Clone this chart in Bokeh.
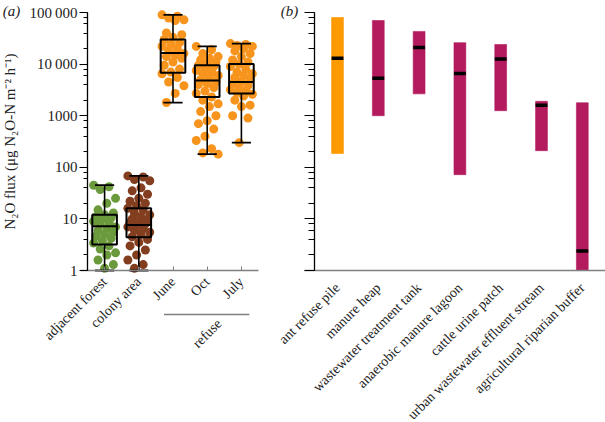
from bokeh.plotting import figure
from bokeh.layouts import row
from bokeh.models import (Range1d, FixedTicker, LogTicker, CustomJSTickFormatter)
from bokeh.core.properties import value
from bokeh.embed import file_html
from bokeh.resources import INLINE
import math

# ---------------- data ----------------
groups = ["adjacent forest", "colony area", "June", "Oct", "July"]
forest = [45, 42, 37, 25, 20, 15, 13, 12, 11, 10.5, 10, 9, 8.5, 8, 7, 6.5, 6, 5.5,
          5, 4.6, 4.2, 3.8, 3.4, 3, 2.6, 2.2, 2, 1.6, 1.3, 1.1]
colony = [68, 65, 58, 55, 40, 35, 30, 25, 22, 20, 18, 16, 15, 13, 12, 11, 10, 9.5,
          9, 8.5, 8, 7.5, 7, 6.5, 6, 5.5, 5, 4.5, 4, 3.5, 3, 2.5, 2, 1.6, 1.3, 1.1]
june = [90000, 85000, 78000, 72000, 70000, 40000, 37000, 33000, 30000, 26000, 24000,
        22000, 20000, 18000, 16000, 15000, 14000, 13000, 11000, 9500, 8000, 7000,
        6500, 5500, 4500, 3800, 2700, 1800]
october = [22000, 19000, 16000, 14000, 13000, 12000, 11000, 10000, 9500, 9000, 8000,
           7500, 7000, 6500, 6000, 5500, 5000, 4500, 4200, 4000, 3500, 3000, 2700,
           2300, 2000, 1700, 1500, 1200, 1000, 800, 700, 550, 400, 330, 230, 190, 180]
july = [25000, 24000, 23000, 22000, 20000, 18000, 16000, 14000, 12000, 11000, 10000,
        9000, 8000, 7000, 6500, 6000, 5500, 5000, 4600, 4200, 3800, 3500, 3200, 3000,
        2800, 2600, 2400, 2000, 1600, 1500, 1000, 900, 300]

box_q1 = [3.2, 4.4, 6800, 2300, 2700]
box_median = [7.2, 7.6, 16500, 4800, 4500]
box_q3 = [12, 16, 30000, 9500, 10000]
whisker_low = [1, 1, 1800, 180, 300]
whisker_high = [45, 68, 90000, 22000, 25000]

group_label = "refuse"

sources = ["ant refuse pile", "manure heap", "wastewater treatment tank",
           "anaerobic manure lagoon", "cattle urine patch",
           "urban wastewater effluent stream", "agricultural riparian buffer"]
range_low = [185, 1000, 2650, 72, 1250, 210, 1]
range_high = [80000, 70000, 43000, 26000, 24000, 1900, 1780]
range_median = [13000, 5300, 21000, 6600, 12500, 1600, 2.4]

y_ticks = [1, 10, 100, 1000, 10000, 100000]
y_tick_labels = ["1", "10", "100", "1000", "10\u2009000", "100\u2009000"]
y_min, y_max = 1, 100000

# ---------------- layout / styles ----------------
SERIF = "Liberation Serif"
TXT = "#222222"
CAT_SIZE = "14px"
dot_colors = ["#6b9a3c", "#823e1e", "#f7941d", "#f7941d", "#f7941d"]
bar_colors = ["#ff9900"] + ["#b31b5e"] * 6
H = 422
TOP, BOTTOM = 12, 270            # pixel rows of y_max and y_min
DEC = (BOTTOM - TOP) / math.log10(y_max / y_min)   # px per decade


def y_from_px(py):
    return 10 ** (math.log10(y_min) + (BOTTOM - py) / DEC)


# panel (a): canvas 0..WA, y axis at AX_A, category spacing UA
WA, AX_A, UA = 266, 87, 34.2
# panel (b): canvas 0..WB (starts at page x=266), y axis at AX_B
WB, AX_B, UB, FIRST_B = 339, 48, 40.8, 71


def base_fig(width, x0, x1):
    p = figure(width=width, height=H, y_axis_type="log",
               x_range=Range1d(x0, x1),
               y_range=Range1d(y_from_px(H), y_from_px(0)),
               output_backend="svg", toolbar_location=None, min_border=0)
    p.min_border_left = p.min_border_right = p.min_border_top = p.min_border_bottom = 0
    p.outline_line_color = None
    p.grid.visible = False
    return p


# ---------------- panel (a) ----------------
xa0 = 0.5 - AX_A / UA
pa = base_fig(WA, xa0, xa0 + WA / UA)

series = [forest, colony, june, october, july]
for gi, vals in enumerate(series):
    xs = [gi + 1 + ((((i * 7) % 11) - 5) / 5.0) * 0.32 for i in range(len(vals))]
    pa.scatter(xs, vals, size=9, fill_color=dot_colors[gi], line_color=None)

xc = [i + 1 for i in range(len(groups))]
hw, cw = 0.36, 0.28
pa.segment(x0=xc, y0=whisker_low, x1=xc, y1=box_q1, line_color="black", line_width=1.6)
pa.segment(x0=xc, y0=box_q3, x1=xc, y1=whisker_high, line_color="black", line_width=1.6)
pa.segment(x0=[x - cw for x in xc], y0=whisker_high, x1=[x + cw for x in xc],
           y1=whisker_high, line_color="black", line_width=1.8)
pa.segment(x0=[x - cw for x in xc], y0=whisker_low, x1=[x + cw for x in xc],
           y1=whisker_low, line_color="black", line_width=1.8)
pa.quad(left=[x - hw for x in xc], right=[x + hw for x in xc], bottom=box_q1,
        top=box_q3, fill_color=None, line_color="black", line_width=2)
pa.segment(x0=[x - hw for x in xc], y0=box_median, x1=[x + hw for x in xc],
           y1=box_median, line_color="black", line_width=2)

# x axis (categories)
xa = pa.xaxis[0]
xa.fixed_location = y_min
xa.bounds = (0.5 - 7 / UA, 5.5)
xa.ticker = FixedTicker(ticks=xc)
xa.major_label_overrides = {x: g for x, g in zip(xc, groups)}
xa.major_label_orientation = math.pi / 4
xa.major_label_text_font = SERIF
xa.major_label_text_font_size = CAT_SIZE
xa.major_label_text_color = TXT
xa.major_label_standoff = 9
xa.major_tick_in = 4
xa.major_tick_out = 0
xa.minor_tick_line_color = None
xa.axis_line_color = "#7f7f7f"
xa.major_tick_line_color = "#7f7f7f"
xa.axis_line_width = 1.5

# y axis
ya = pa.yaxis[0]
ya.fixed_location = 0.5
ya.bounds = (y_min, y_max)
ya.ticker = LogTicker(desired_num_ticks=6)
ya.major_label_overrides = {t: l for t, l in zip(y_ticks, y_tick_labels)}
ya.major_label_text_font = SERIF
ya.major_label_text_font_size = "15px"
ya.major_label_text_color = TXT
ya.major_label_standoff = 2
ya.major_tick_out = 8
ya.major_tick_in = 0
ya.minor_tick_out = 4
ya.minor_tick_in = 0
ya.axis_line_width = 1.3
ya.axis_label = "N\u2082O flux (\u03bcg N\u2082O-N m\u207b\u00b2 h\u207b\u00b9)"
ya.axis_label_text_font = SERIF
ya.axis_label_text_font_size = "15px"
ya.axis_label_text_font_style = "normal"
ya.axis_label_text_color = TXT
ya.axis_label_standoff = 8

# group bracket and its label under the three months
y_br = y_from_px(314)
pa.segment(x0=[3 - 9 / UA], y0=[y_br], x1=[5 + 8 / UA], y1=[y_br],
           line_color="#7f7f7f", line_width=1.5)
pa.text(x=[4], y=[y_from_px(333)], text=[group_label], angle=math.pi / 4,
        text_align="center", text_baseline="middle", text_font=value(SERIF),
        text_font_size=CAT_SIZE, text_color=TXT)
pa.text(x=[0.5 + (11 - AX_A) / UA], y=[y_from_px(10)], text=["(a)"],
        text_align="center", text_baseline="middle", text_font=value(SERIF),
        text_font_style="italic", text_font_size="15px", text_color=TXT)

# ---------------- panel (b) ----------------
xb0 = 1 - FIRST_B / UB
pb = base_fig(WB, xb0, xb0 + WB / UB)

bx = [i + 1 for i in range(len(sources))]
pb.vbar(x=bx, width=0.29, bottom=range_low, top=range_high, fill_color=bar_colors,
        line_color=bar_colors, line_alpha=0.6)
pb.rect(x=bx, y=range_median, width=0.29, height=3.5, height_units="screen",
        fill_color="black", line_color=None)

xb = pb.xaxis[0]
xb.fixed_location = y_min
xb.bounds = (1 + (38 - FIRST_B) / UB, xb0 + WB / UB)
xb.ticker = FixedTicker(ticks=bx)
xb.major_label_overrides = {x: s for x, s in zip(bx, sources)}
xb.major_label_orientation = math.pi / 4
xb.major_label_text_font = SERIF
xb.major_label_text_font_size = CAT_SIZE
xb.major_label_text_color = TXT
xb.major_label_standoff = 9
xb.major_tick_line_color = None
xb.minor_tick_line_color = None
xb.axis_line_color = "#7f7f7f"
xb.axis_line_width = 1.5

yb = pb.yaxis[0]
yb.fixed_location = 1 + (AX_B - FIRST_B) / UB
yb.bounds = (y_min, y_max)
yb.ticker = LogTicker(desired_num_ticks=6)
yb.formatter = CustomJSTickFormatter(code="return ''")
yb.major_label_text_font_size = "1px"
yb.major_label_standoff = 0
yb.major_tick_out = 10
yb.major_tick_in = 0
yb.minor_tick_out = 6
yb.minor_tick_in = 0
yb.axis_line_width = 1.3

pb.text(x=[1 + (23 - FIRST_B) / UB], y=[y_from_px(10)], text=["(b)"],
        text_align="center", text_baseline="middle", text_font=value(SERIF),
        text_font_style="italic", text_font_size="15px", text_color=TXT)

layout = row(pa, pb)
open("out.html", "w").write(file_html(layout, INLINE))
